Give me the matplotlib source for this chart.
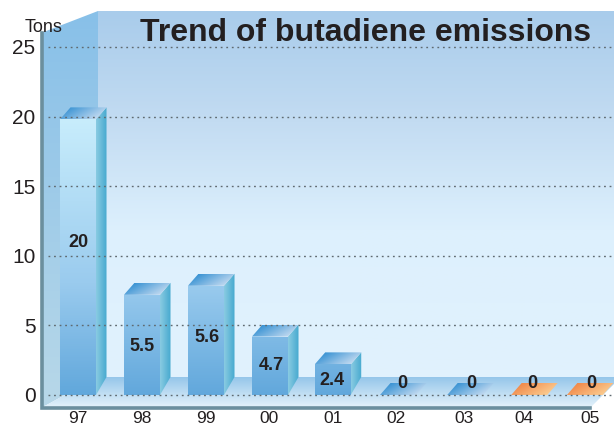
import numpy as np
import matplotlib
matplotlib.use('Agg')
import matplotlib.pyplot as plt
from matplotlib.colors import LinearSegmentedColormap as LSC
from matplotlib.patches import Polygon

plt.rcParams['font.family'] = ['Liberation Sans', 'DejaVu Sans']

years = ['97', '98', '99', '00', '01', '02', '03', '04', '05']
bar_heights = [19.8, 7.2, 7.85, 4.2, 2.2, 0, 0, 0, 0]
bar_labels = ['20', '5.5', '5.6', '4.7', '2.4', '0', '0', '0', '0']
y_ticks = [0, 5, 10, 15, 20, 25]

# where things sit, the chart is not quite evenly spaced
tick_pos = [0, 1, 2, 2.98, 3.98, 4.97, 6.03, 6.97, 8]
bar_pos = [0, 1, 2, 3, 3.98, 5, 6.05, 7.05, 7.92]
label_pos = [0, 1, 2.02, 3.02, 3.97, 5.06, 6.14, 7.1, 8.02]
label_y = [10.95, 3.5, 4.1, 2.1, 1.05, 0.85, 0.85, 0.8, 0.8]

W, H = 614, 424
X0, PX_X = 78, 64.0
Y0, PX_Y = 395, 13.92


def px_x(x):
    return (x - X0) / PX_X


def px_y(y):
    return (Y0 - y) / PX_Y


fig = plt.figure(figsize=(W / 100, H / 100), dpi=100, facecolor='white')
ax = fig.add_axes([0, 0, 1, 1])


def grad_poly(points, colors, horizontal=False, z=1, stops=None, img=None):
    # gradient image clipped to a polygon, first row of img is the top
    pts = np.array(points)
    x1, x2 = pts[:, 0].min(), pts[:, 0].max()
    y1, y2 = pts[:, 1].min(), pts[:, 1].max()
    if stops is not None:
        cmap = LSC.from_list('g', list(zip(stops, colors)))
    else:
        cmap = LSC.from_list('g', colors)
    if img is None:
        img = np.linspace(0, 1, 128)
        img = img.reshape(1, -1) if horizontal else img.reshape(-1, 1)
    im = ax.imshow(img, extent=(x1, x2, y1, y2), cmap=cmap, vmin=0, vmax=1,
                   aspect='auto', zorder=z, interpolation='bilinear')
    clip = Polygon(pts, closed=True, transform=ax.transData, fc='none', ec='none')
    ax.add_patch(clip)
    im.set_clip_path(clip)


# walls and floor
back = [(px_x(98), px_y(11)), (px_x(W), px_y(11)), (px_x(W), px_y(378)), (px_x(98), px_y(378))]
grad_poly(back, ['#A9CCEB', '#C3DCF2', '#DDF0FD', '#E1F2FD'], z=1, stops=[0, 0.3, 0.6, 1])
left = [(px_x(41), px_y(33)), (px_x(98), px_y(11)), (px_x(98), px_y(377)), (px_x(41), px_y(408))]
grad_poly(left, ['#88C0E8', '#B8D8E8'], z=2)
floor = [(px_x(41), px_y(408)), (px_x(98), px_y(377)), (px_x(W), px_y(377)),
         (px_x(W), px_y(384)), (px_x(590), px_y(408))]
grad_poly(floor, ['#95C6EA', '#E6F3FB'], z=3)
ax.plot([px_x(41.5), px_x(41.5), px_x(590)], [px_y(33), px_y(408), px_y(408)],
        color='#6B8F9E', lw=2.6, solid_joinstyle='miter', zorder=4)

# bars
dx, dy = 10.5 / PX_X, 12 / PX_Y
dy_low = 18 / PX_Y
half = 18 / PX_X
front_cmap = ['#62A8DC', '#9ACBEE', '#C8EDFC']
for p, h in zip(bar_pos, bar_heights):
    if h > 0:
        # side
        side = [(p + half, 0), (p + half + dx, dy_low), (p + half + dx, h + dy), (p + half, h)]
        grad_poly(side, ['#8ACBE2', '#45A9CF'], horizontal=True, z=5)
        # front, colour follows the height on the same scale for each bar
        shade = np.linspace(h / 20.0, 0, 64).reshape(-1, 1)
        front = [(p - half, 0), (p + half, 0), (p + half, h), (p - half, h)]
        grad_poly(front, front_cmap, z=6, stops=[0, 0.4, 1], img=shade)
    # top face, a flat one for the zero years
    c = ['#2488CF', '#D8E5F5']
    if h == 0 and p > 6.5:
        c = ['#EF7E3E', '#FDD79C']
    top = [(p - half, h), (p + half, h), (p + half + dx, h + dy), (p - half + dx, h + dy)]
    n = 64
    xx, yy = np.meshgrid(np.linspace(0, 1, n), np.linspace(0, 1, n))
    grad_poly(top, c, z=6, img=np.clip(0.75 * xx + 0.35 * yy - 0.05, 0, 1))

# dotted grid goes over the bars
ax.hlines(y_ticks, px_x(48), px_x(W), color='#5F6A70', lw=1.0,
          linestyles=(0, (1.3, 2.7)), zorder=7)

for x, y, s in zip(label_pos, label_y, bar_labels):
    ax.text(x, y, s, ha='center', va='center', fontsize=13, fontweight='bold',
            color='#231F20', zorder=8)

ax.set_xlim(px_x(0), px_x(W))
ax.set_ylim(px_y(H), px_y(0))
ax.set_yticks(y_ticks)
ax.set_yticklabels(y_ticks, fontsize=15, color='#231F20')
ax.set_xticks(tick_pos)
ax.set_xticklabels(years, fontsize=12.5, color='#231F20')
ax.tick_params(axis='y', length=0, direction='in', pad=-25.5)
ax.tick_params(axis='x', length=0, direction='in', pad=-9.5)
for s in ax.spines.values():
    s.set_visible(False)

ax.text(px_x(25), px_y(27), 'Tons', ha='left', va='center', fontsize=13,
        color='#231F20', zorder=9)
ax.text(px_x(140), px_y(33), 'Trend of butadiene emissions', ha='left', va='center',
        fontsize=23, fontweight='bold', color='#231F20', zorder=9)

fig.savefig('out.png', dpi=100)
